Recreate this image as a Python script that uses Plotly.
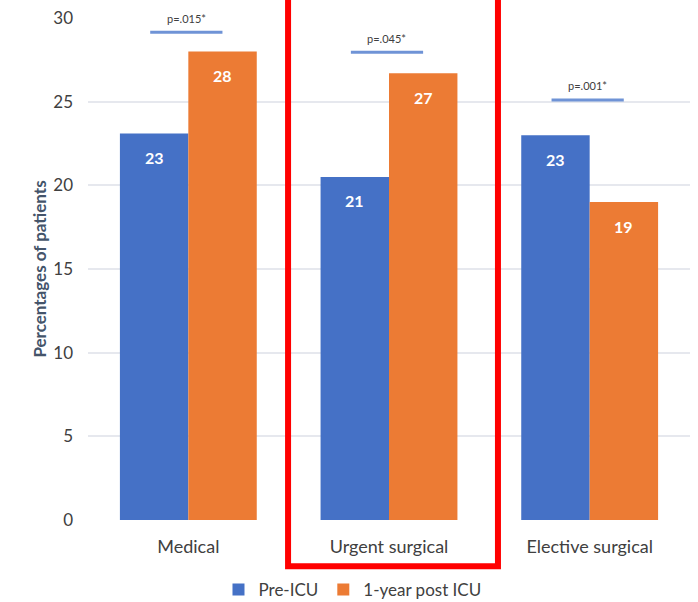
import plotly.graph_objects as go

categories = ["Medical", "Urgent surgical", "Elective surgical"]
pre_icu = [23.1, 20.5, 23.0]
post_icu = [28.0, 26.7, 19.0]
pre_labels = ["23", "21", "23"]
post_labels = ["28", "27", "19"]
p_values = ["p=.015*", "p=.045*", "p=.001*"]
p_line_y = [29.15, 27.95, 25.1]
y_ticks = [0, 5, 10, 15, 20, 25, 30]

FONT = "Lato, 'Open Sans', Arial, sans-serif"
BLUE = "#4571C6"
ORANGE = "#EC7B34"

fig = go.Figure()
fig.add_trace(go.Bar(x=list(range(3)), y=pre_icu, name="Pre-ICU",
                     marker=dict(color=BLUE, line=dict(width=0))))
fig.add_trace(go.Bar(x=list(range(3)), y=post_icu, name="1-year post ICU",
                     marker=dict(color=ORANGE, line=dict(width=0))))

half = 0.17
ann = []
shapes = []
for i in range(3):
    ann.append(dict(x=i - half, y=pre_icu[i], text=f"<b>{pre_labels[i]}</b>", showarrow=False,
                    yshift=-24, font=dict(color="white", size=16, family=FONT)))
    ann.append(dict(x=i + half, y=post_icu[i], text=f"<b>{post_labels[i]}</b>", showarrow=False,
                    yshift=-24, font=dict(color="white", size=16, family=FONT)))
    shapes.append(dict(type="line", xref="x", yref="y", x0=i - 0.19, x1=i + 0.17,
                       y0=p_line_y[i], y1=p_line_y[i], line=dict(color="#6F93D6", width=3)))
    ann.append(dict(x=i - 0.01, y=p_line_y[i], text=p_values[i], showarrow=False,
                    yshift=14, font=dict(color="#404040", size=11, family=FONT)))

# red highlight box around the middle category
shapes.append(dict(type="rect", xref="x", yref="paper", x0=0.497, x1=1.543,
                   y0=-0.092, y1=1.05, line=dict(color="#FF0000", width=6),
                   fillcolor="rgba(0,0,0,0)"))

fig.update_layout(
    width=698, height=602,
    margin=dict(l=88, r=8, t=18, b=82),
    paper_bgcolor="white", plot_bgcolor="white",
    barmode="group", bargap=0.318, bargroupgap=0,
    font=dict(family=FONT, color="#404040"),
    xaxis=dict(range=[-0.5, 2.5], tickmode="array", tickvals=list(range(3)),
               ticktext=categories, showgrid=False, zeroline=False, automargin=False,
               showline=False, ticks="", tickfont=dict(size=18, color="#404040"),
               ticklabelstandoff=14),
    yaxis=dict(range=[0, 30], tickvals=y_ticks, showgrid=True, gridcolor="#E6E8EE",
               gridwidth=1.5, zeroline=False, showline=False, ticks="", automargin=False,
               tickfont=dict(size=17, color="#404040"), ticklabelstandoff=14,
               title=dict(text="<b>Percentages of patients</b>", standoff=2,
                          font=dict(size=17, color="#44546A"))),
    legend=dict(orientation="h", xref="container", yref="container",
                x=0.505, xanchor="center", y=0.02, yanchor="middle",
                bgcolor="rgba(0,0,0,0)",
                font=dict(size=17, color="#404040"), itemwidth=30,
                traceorder="normal"),
    annotations=ann, shapes=shapes,
)

fig.write_html("out.html")
